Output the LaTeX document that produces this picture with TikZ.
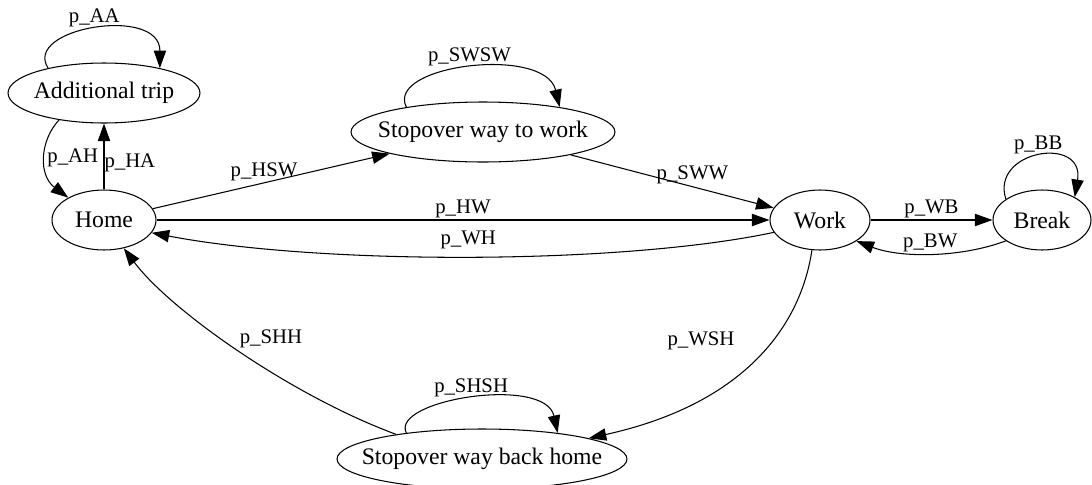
\documentclass[tikz,border=0pt]{standalone}
\usepackage{fontspec}
\setmainfont{Liberation Serif}
\usetikzlibrary{arrows.meta}
\usetikzlibrary{shapes}

\begin{document}
\begin{tikzpicture}[x=0.02cm, y=-0.02cm]
   \tikzset{VertexStyle/.style={draw, ellipse, inner sep=0pt, minimum height=1.2cm, line width=0.6pt,
      label={[font=\fontsize{13.5}{16}\selectfont]center:#1}}}
   \tikzset{EdgeStyle/.style={-{Triangle[length=10pt,width=7pt]}, line width=0.6pt}}
   \tikzset{LabelStyle/.style={inner sep=1pt, font=\fontsize{11.8}{14}\selectfont}}
   \useasboundingbox (0,0) rectangle (1092,484);
   \node[VertexStyle=Additional trip, minimum width=3.84cm] (A) at (104,93) {};
   \node[VertexStyle=Home, minimum width=2.08cm] (H) at (104,220) {};
   \node[VertexStyle=Stopover way to work, minimum width=5.28cm] (SW) at (483,132) {};
   \node[VertexStyle=Work, minimum width=2cm] (W) at (820,220) {};
   \node[VertexStyle=Break, minimum width=1.96cm] (B) at (1042,220) {};
   \node[VertexStyle=Stopover way back home, minimum width=5.8cm] (SH) at (482,459) {};
   % loops
   \draw[EdgeStyle] (A.156) .. controls (22,28) and (160,5) .. (A.24) node[LabelStyle, pos=0.5, above] {p\_AA};
   \draw[EdgeStyle] (SW.162) .. controls (385,65) and (545,45) .. (SW.18) node[LabelStyle, pos=0.5, above] {p\_SWSW};
   \draw[EdgeStyle] (B.150) .. controls (990,150) and (1085,135) .. (B.35) node[LabelStyle, pos=0.5, above] {p\_BB};
   \draw[EdgeStyle] (SH.161) .. controls (390,400) and (545,375) .. (SH.19) node[LabelStyle, pos=0.5, above] {p\_SHSH};
   % edges
   \draw[EdgeStyle] (A.211) .. controls (40,140) and (38,175) .. (H.148) node[LabelStyle, pos=0.5, right] {p\_AH};
   \draw[EdgeStyle] (H) -- (A) node[LabelStyle, pos=0.4, right, inner sep=0pt] {p\_HA};
   \draw[EdgeStyle] (H) -- (SW) node[LabelStyle, pos=0.47, above] {p\_HSW};
   \draw[EdgeStyle] (SW) -- (W) node[LabelStyle, pos=0.6, above] {p\_SWW};
   \draw[EdgeStyle] (H) -- (W) node[LabelStyle, midway, above] {p\_HW};
   \draw[EdgeStyle] (W.195) .. controls (620,265) and (320,265) .. (H.345) node[LabelStyle, pos=0.5, above=3pt] {p\_WH};
   \draw[EdgeStyle] (W) -- (B) node[LabelStyle, midway, above] {p\_WB};
   \draw[EdgeStyle] (B.210) .. controls (960,258) and (900,258) .. (W.330) node[LabelStyle, pos=0.5, above] {p\_BW};
   \draw[EdgeStyle] (W.255) .. controls (800,330) and (740,405) .. (SH.11) node[LabelStyle, pos=0.4, left=20pt] {p\_WSH};
   \draw[EdgeStyle] (SH.164) .. controls (290,395) and (170,310) .. (H.305) node[LabelStyle, pos=0.5, above right] {p\_SHH};
\end{tikzpicture}
\end{document}
